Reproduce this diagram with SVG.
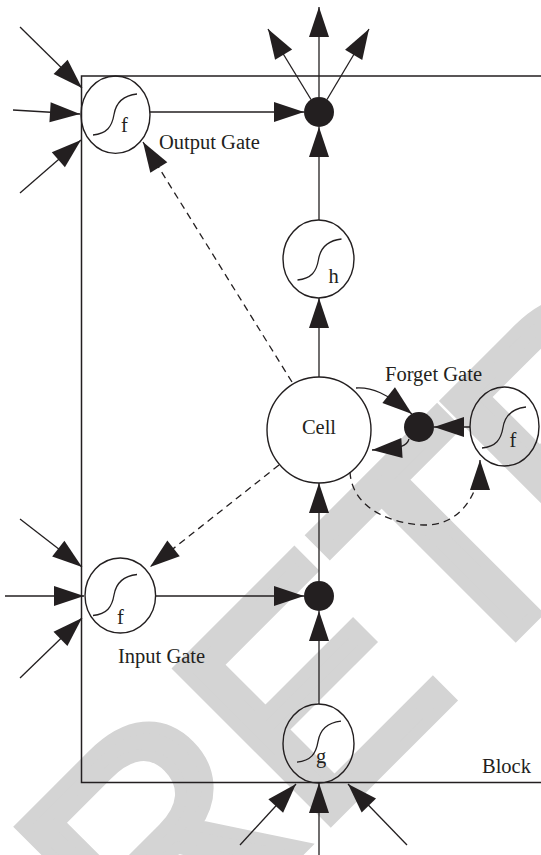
<svg xmlns="http://www.w3.org/2000/svg" width="541" height="855" viewBox="0 0 541 855">
<style>
.ln{fill:none;stroke:#231f20;stroke-width:1.3}
.ar{marker-end:url(#ah)}
.ds{stroke-dasharray:7 5}
.nd{fill:none;stroke:#231f20;stroke-width:1.4}
.dot{fill:#231f20}
.sg{fill:none;stroke:#231f20;stroke-width:1.3}
.tx{font-family:"Liberation Serif","Times New Roman",serif;font-size:20.5px;fill:#231f20}
.wm{font-family:"Liberation Sans",Arial,sans-serif;font-size:310px;fill:#d4d4d4;stroke:#d4d4d4;stroke-width:12}
</style>
<defs>
<marker id="ah" markerUnits="userSpaceOnUse" markerWidth="30" markerHeight="20" refX="30" refY="10" orient="auto" overflow="visible">
<path d="M0,0 L30,10 L0,20 z" fill="#231f20"/>
</marker>
<path id="sig" d="M-22,20.5 C-8,19 -3,12 -1,0 C1,-12 8,-19 22,-20.5"/>
</defs>
<rect width="541" height="855" fill="#fff"/>
<text class="wm" transform="translate(154.5,995.5) rotate(-45)">RET<tspan dx="-18">RACTED</tspan></text>

<g id="block">
<path class="ln" d="M541,76 H81.5 V782.5 H541" style="stroke-width:1.5"/>
<text class="tx" x="482" y="773">Block</text>
</g>

<g id="output-gate">
<ellipse class="nd" cx="115.5" cy="114.7" rx="34.5" ry="38.7"/>
<use href="#sig" class="sg" x="115" y="114.5"/>
<text class="tx" x="124.5" y="132" text-anchor="middle">f</text>
<text class="tx" x="159" y="149">Output Gate</text>
</g>

<g id="output-mult">
<circle class="dot" cx="319" cy="112" r="15"/>
</g>

<g id="h-node">
<ellipse class="nd" cx="318.5" cy="259" rx="35.5" ry="39"/>
<use href="#sig" class="sg" x="319.5" y="259.5"/>
<text class="tx" x="333.5" y="283" text-anchor="middle">h</text>
</g>

<g id="cell">
<ellipse class="nd" cx="319" cy="430" rx="52" ry="53"/>
<text class="tx" x="319" y="434" text-anchor="middle">Cell</text>
</g>

<g id="forget-mult">
<circle class="dot" cx="419" cy="427" r="15"/>
<text class="tx" x="385" y="381">Forget Gate</text>
</g>

<g id="forget-gate">
<ellipse class="nd" cx="504.5" cy="426.5" rx="34.5" ry="39.5"/>
<use href="#sig" class="sg" x="504" y="427.5"/>
<text class="tx" x="513" y="446.5" text-anchor="middle">f</text>
</g>

<g id="input-gate">
<ellipse class="nd" cx="120.3" cy="595.5" rx="35.3" ry="37.5"/>
<use href="#sig" class="sg" x="115" y="595"/>
<text class="tx" x="120.5" y="624" text-anchor="middle">f</text>
<text class="tx" x="118" y="663">Input Gate</text>
</g>

<g id="input-mult">
<circle class="dot" cx="319" cy="596" r="15"/>
</g>

<g id="g-node">
<ellipse class="nd" cx="318.5" cy="743.5" rx="35.5" ry="39.5"/>
<use href="#sig" class="sg" x="319" y="741.7"/>
<text class="tx" x="321" y="762.5" text-anchor="middle">g</text>
</g>

<g id="connectors">
<path class="ln ar" d="M20,27 L82,88"/>
<path class="ln ar" d="M13,110 L80,114"/>
<path class="ln ar" d="M20,193 L81,140"/>
<path class="ln ar" d="M150,112 L304,112"/>
<path class="ln ar" d="M319,97 L319,7"/>
<path class="ln ar" d="M311,99.5 L268,29"/>
<path class="ln ar" d="M327,99.5 L369,29"/>
<path class="ln ar" d="M319,220 L319,127"/>
<path class="ln ar" d="M319,377 L319,298"/>
<path class="ln ar ds" d="M292,382 L143,142"/>
<path class="ln ar ds" d="M279,465 L150,567"/>
<path class="ln ar" d="M20,519 L82,567"/>
<path class="ln ar" d="M5,596 L84,596"/>
<path class="ln ar" d="M20,678 L82,618"/>
<path class="ln ar" d="M155.6,596 L304,596"/>
<path class="ln ar" d="M319,704 L319,611"/>
<path class="ln ar" d="M319,581 L319,483"/>
<path class="ln ar" d="M319,855 L319,783"/>
<path class="ln ar" d="M240,845 L296,784"/>
<path class="ln ar" d="M407,845 L348,784"/>
<path class="ln ar" d="M470,427 L434,427"/>
<path class="ln ar" d="M356,388 C372,387 386,393 412,414"/>
<path class="ln ar" d="M409,439 C407,446 403,448 372,450"/>
<path class="ln ar ds" d="M350,472 C352,510 395,525 427,525 C455,525 480,500 480,460"/>
</g>
</svg>
